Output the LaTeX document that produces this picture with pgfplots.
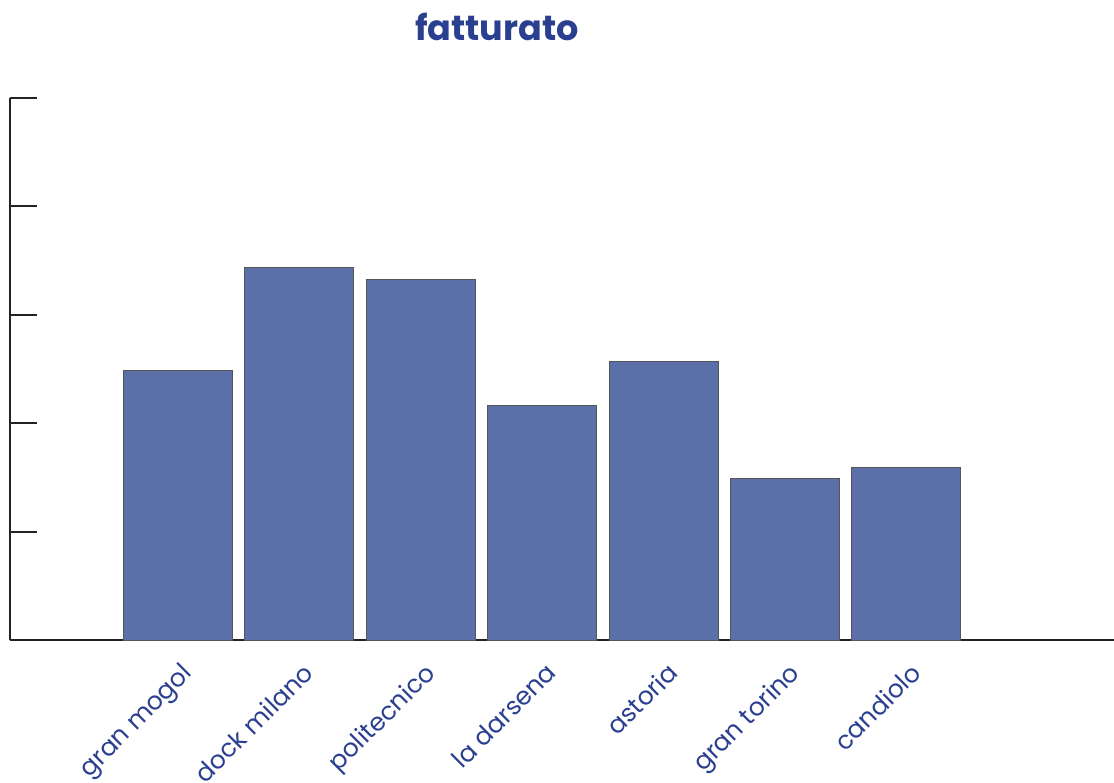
\documentclass[border=0pt]{standalone}
\usepackage{pgfplots}
\pgfplotsset{compat=1.18}
\usepackage{fontspec}
\setmainfont{Poppins}
\definecolor{barfill}{HTML}{5B6FA8}
\definecolor{baredge}{HTML}{555555}
\definecolor{txt}{HTML}{2A3F8F}
\definecolor{axc}{HTML}{222222}
\begin{document}
\begin{tikzpicture}
\useasboundingbox (0,0) rectangle (557pt,391pt);
\begin{axis}[
  at={(5pt,71pt)}, anchor=south west,
  scale only axis, width=552pt, height=271pt,
  ybar, bar width=54.5pt, bar shift=0pt,
  xmin=-1.379, xmax=7.708, ymin=0, ymax=5,
  axis lines=left, axis line style={-, draw=axc, line width=1pt},
  xtick={0,1,2,3,4,5,6},
  xticklabels={gran mogol, dock milano, politecnico, la darsena, astoria, gran torino, candiolo},
  xticklabel style={rotate=45, anchor=north east, font=\fontsize{12.5}{14}\selectfont, text=txt, xshift=-3.1pt, yshift=-4.9pt},
  xtick style={draw=none},
  ytick={0,1,2,3,4,5}, yticklabels={},
  ytick pos=left, tick align=inside, major tick length=13.5pt,
  ytick style={draw=axc, line width=1pt},
  title={fatturato},
  title style={at={(axis description cs:0.441,1.129)}, anchor=center, yshift=-5.5pt, font=\bfseries\fontsize{17.5}{19}\selectfont, text=txt},
  clip=false,
]
\addplot[fill=barfill, draw=baredge, line width=0.5pt] coordinates {
(0,2.49) (1,3.44) (2,3.33) (3,2.16) (4,2.57) (5,1.49) (6,1.59)};
\end{axis}
\end{tikzpicture}
\end{document}
